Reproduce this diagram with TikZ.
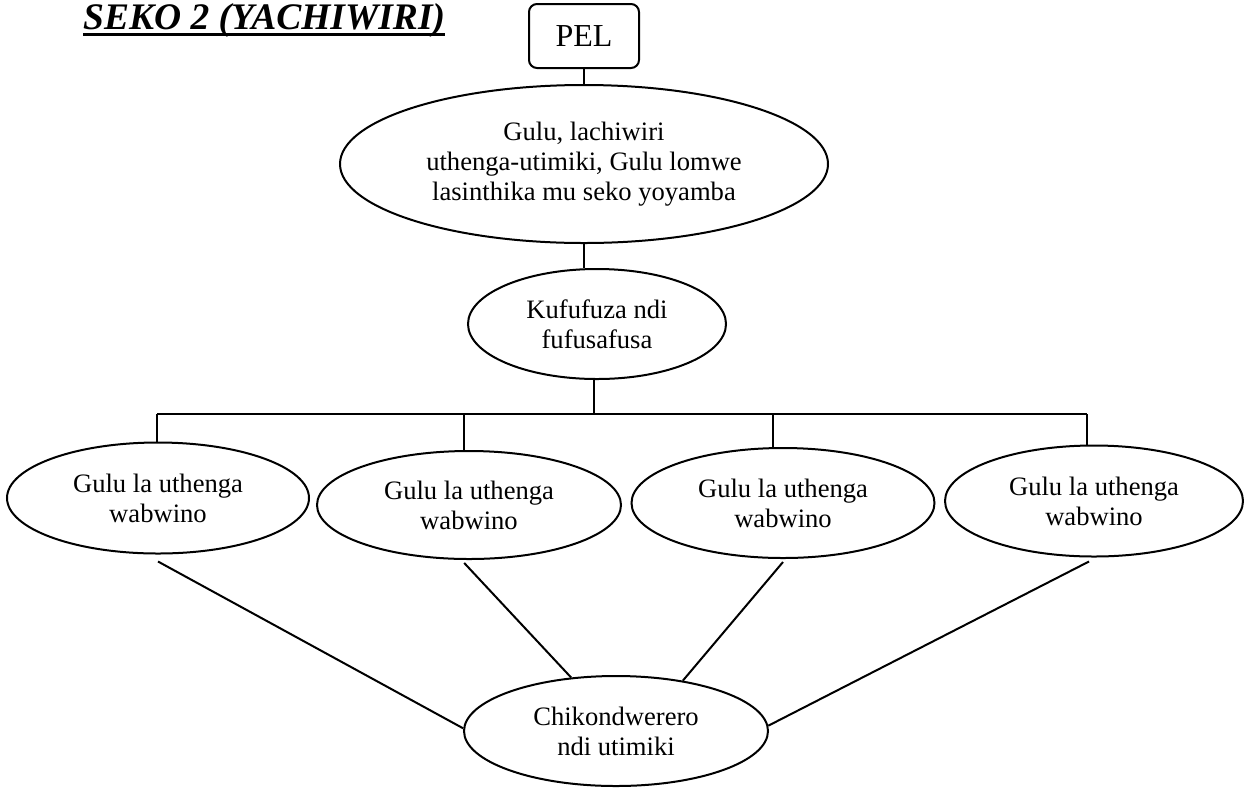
\documentclass[tikz,border=0pt]{standalone}
\usepackage{fontspec}
\setmainfont{Liberation Serif}
\usetikzlibrary{shapes.geometric}
\begin{document}
\begin{tikzpicture}[x=1pt,y=-1pt,
  every node/.style={align=center, font=\fontsize{26.6}{29.8}\selectfont},
  oval/.style={ellipse, draw, line width=2pt, inner sep=0pt},
  link/.style={line width=2pt}]
\useasboundingbox (0,0) rectangle (1244,788);

% heading
\node[anchor=base west, inner sep=0pt,
      font=\fontsize{37.5}{40}\selectfont\bfseries\itshape] (title) at (83,29) {SEKO 2 (YACHIWIRI)};
\draw[line width=3pt] ([yshift=-5.5pt]title.base west) -- ([yshift=-5.5pt]title.base east);

% top of the chart
\node[draw, rounded corners=8pt, line width=2pt, minimum width=110pt, minimum height=64pt,
      font=\fontsize{32}{36}\selectfont] (pel) at (584,36) {PEL};
\node[oval, minimum width=488pt, minimum height=158pt] (top) at (584,164)
  {Gulu, lachiwiri\\uthenga-utimiki, Gulu lomwe\\lasinthika mu seko yoyamba};
\node[oval, minimum width=258pt, minimum height=110pt] (kuf) at (597,324)
  {Kufufuza ndi\\fufusafusa};

% the four groups
\node[oval, minimum width=302pt, minimum height=111pt] (e1) at (158,498) {Gulu la uthenga\\wabwino};
\node[oval, minimum width=304pt, minimum height=108pt] (e2) at (469,505) {Gulu la uthenga\\wabwino};
\node[oval, minimum width=303pt, minimum height=110pt] (e3) at (783,503) {Gulu la uthenga\\wabwino};
\node[oval, minimum width=298pt, minimum height=111pt] (e4) at (1094,501) {Gulu la uthenga\\wabwino};

% closing celebration
\node[oval, minimum width=304pt, minimum height=110pt] (bot) at (616,731) {Chikondwerero\\ndi utimiki};

% vertical links
\draw[link] (pel.south) -- (top.north);
\draw[link] (top.south) -- (top.south |- kuf.north);

% horizontal bus with drops
\coordinate (bus) at (594,414);
\coordinate (d1) at (157,414);
\coordinate (d2) at (464,414);
\coordinate (d3) at (773,414);
\coordinate (d4) at (1087,414);
\draw[link] (kuf.south -| bus) -- (bus);
\draw[link] (d1) -- (d4);
\draw[link] (d1) -- (d1 |- e1.north);
\draw[link] (d2) -- (d2 |- e2.north);
\draw[link] (d3) -- (d3 |- e3.north);
\draw[link] (d4) -- (d4 |- e4.north);

% converging links
\draw[link] ([yshift=-7pt]e1.south) -- (bot.179);
\draw[link] ([yshift=-3pt]e2.265) -- (bot.130);
\draw[link] ([yshift=-3pt]e3.south) -- (bot.37);
\draw[link] ([yshift=-4pt]e4.265) -- (bot.2);
\end{tikzpicture}
\end{document}
